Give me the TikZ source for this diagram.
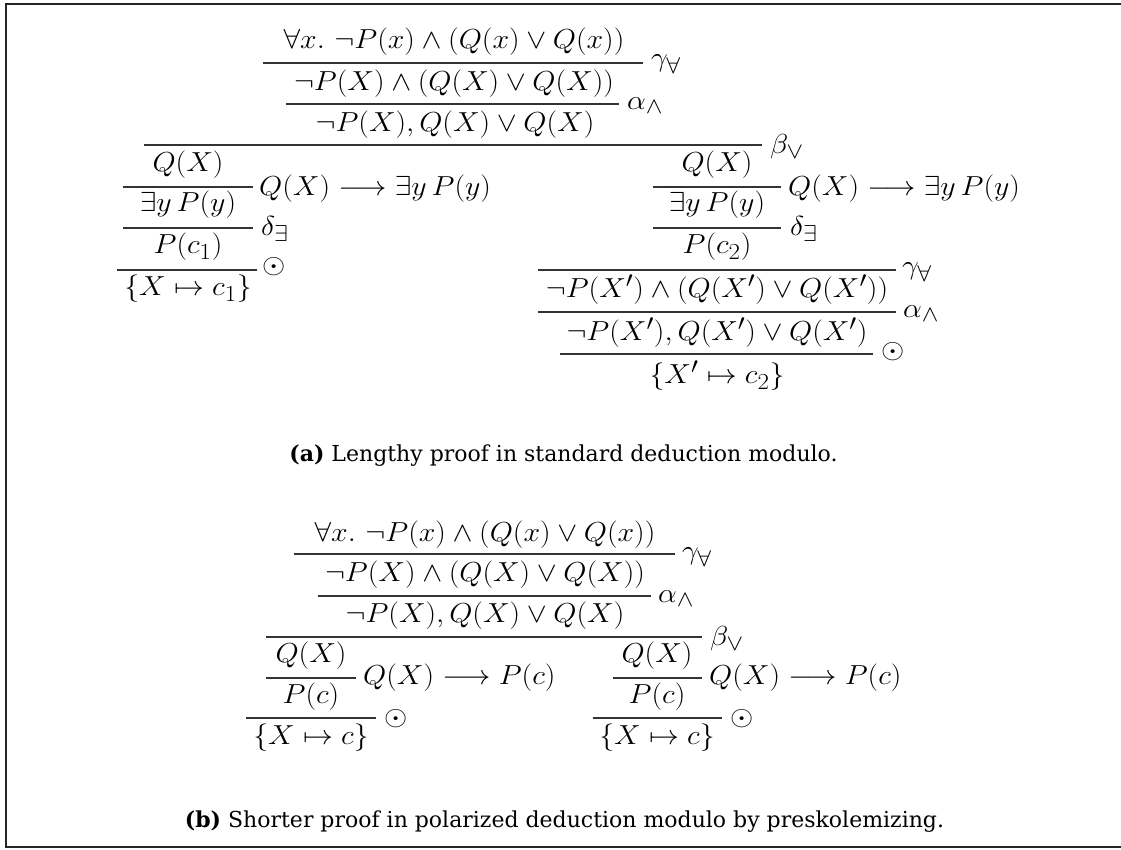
\documentclass[tikz,border=0pt]{standalone}
\usepackage{fontspec}
\setmainfont{DejaVu Serif}
\newcommand\mth[1]{\scalebox{1.2}[1.105]{$#1$}}
\tikzset{
  fml/.style={font=\fontsize{24.88}{30}\selectfont, inner sep=0pt, anchor=center},
  lbl/.style={font=\fontsize{24.88}{30}\selectfont, inner sep=0pt, anchor=west},
  captxt/.style={font=\fontsize{22}{26}\selectfont, inner sep=0pt, anchor=center},
  infrule/.style={draw=black!80, line width=1.1pt},
  frameline/.style={draw=black!85, line width=1.8pt}
}
\begin{document}
\begin{tikzpicture}[x=1pt,y=-1pt]
\useasboundingbox (0,0) rectangle (1121,849);
% frame (no right side)
\draw[frameline] (1121,4) -- (6,4) -- (6,847) -- (1121,847);

% ---------- (a) ----------
\node[fml] (a1) at (454,42) {\mth{\forall x.\ \neg P(x)\wedge(Q(x)\vee Q(x))}};
\draw[infrule] (262.5,63) -- (643,63);
\node[lbl] (a1l) at (651,64) {\mth{\gamma_\forall}};
\node[fml] (a2) at (454,83.5) {\mth{\neg P(X)\wedge(Q(X)\vee Q(X))}};
\draw[infrule] (286,104) -- (619,104);
\node[lbl] (a2l) at (627,106) {\mth{\alpha_\wedge}};
\node[fml] (a3) at (455,124.5) {\mth{\neg P(X), Q(X)\vee Q(X)}};
\draw[infrule] (143.6,145) -- (762,145);
\node[lbl] (a3l) at (770,147) {\mth{\beta_\vee}};

% left branch
\node[fml] (l1) at (188,165) {\mth{Q(X)}};
\draw[infrule] (123,187) -- (253,187);
\node[lbl] (l1l) at (259,189) {\mth{Q(X)\longrightarrow\exists y\, P(y)}};
\node[fml] (l2) at (188,205) {\mth{\exists y\, P(y)}};
\draw[infrule] (123,228) -- (253,228);
\node[lbl] (l2l) at (261,229) {\mth{\delta_\exists}};
\node[fml] (l3) at (188,247) {\mth{P(c_1)}};
\draw[infrule] (117,270) -- (257,270);
\node[lbl] (l3l) at (262,267) {\mth{\odot}};
\node[fml] (l4) at (188,289) {\mth{\{X\mapsto c_1\}}};

% right branch
\node[fml] (r1) at (717,165) {\mth{Q(X)}};
\draw[infrule] (653,187) -- (781,187);
\node[lbl] (r1l) at (788,189) {\mth{Q(X)\longrightarrow\exists y\, P(y)}};
\node[fml] (r2) at (717,205) {\mth{\exists y\, P(y)}};
\draw[infrule] (653,228) -- (781,228);
\node[lbl] (r2l) at (790,229) {\mth{\delta_\exists}};
\node[fml] (r3) at (717,247) {\mth{P(c_2)}};
\draw[infrule] (538,270) -- (896,270);
\node[lbl] (r3l) at (902,272) {\mth{\gamma_\forall}};
\node[fml] (r4) at (717,290) {\mth{\neg P(X')\wedge(Q(X')\vee Q(X'))}};
\draw[infrule] (538,312) -- (896,312);
\node[lbl] (r4l) at (903,314) {\mth{\alpha_\wedge}};
\node[fml] (r5) at (717,332.5) {\mth{\neg P(X'), Q(X')\vee Q(X')}};
\draw[infrule] (560,354) -- (873,354);
\node[lbl] (r5l) at (881,352) {\mth{\odot}};
\node[fml] (r6) at (717,376) {\mth{\{X'\mapsto c_2\}}};

\node[captxt] (capa) at (563.5,456) {\textbf{(a)} Lengthy proof in standard deduction modulo.};

% ---------- (b) ----------
\node[fml] (b1) at (485,534.5) {\mth{\forall x.\ \neg P(x)\wedge(Q(x)\vee Q(x))}};
\draw[infrule] (293.6,554) -- (674.6,554);
\node[lbl] (b1l) at (682,557) {\mth{\gamma_\forall}};
\node[fml] (b2) at (485,575) {\mth{\neg P(X)\wedge(Q(X)\vee Q(X))}};
\draw[infrule] (317.5,596) -- (650.7,596);
\node[lbl] (b2l) at (658,599) {\mth{\alpha_\wedge}};
\node[fml] (b3) at (485,616) {\mth{\neg P(X), Q(X)\vee Q(X)}};
\draw[infrule] (266,637) -- (702,637);
\node[lbl] (b3l) at (710,639) {\mth{\beta_\vee}};

\node[fml] (bl1) at (311,656) {\mth{Q(X)}};
\draw[infrule] (266,678) -- (356,678);
\node[lbl] (bl1l) at (363,678) {\mth{Q(X)\longrightarrow P(c)}};
\node[fml] (bl2) at (311,697) {\mth{P(c)}};
\draw[infrule] (246,718) -- (376,718);
\node[lbl] (bl2l) at (384,719) {\mth{\odot}};
\node[fml] (bl3) at (311,738) {\mth{\{X\mapsto c\}}};

\node[fml] (br1) at (657,656) {\mth{Q(X)}};
\draw[infrule] (613,678) -- (702,678);
\node[lbl] (br1l) at (709,678) {\mth{Q(X)\longrightarrow P(c)}};
\node[fml] (br2) at (657,697) {\mth{P(c)}};
\draw[infrule] (592.5,718) -- (722,718);
\node[lbl] (br2l) at (730,719) {\mth{\odot}};
\node[fml] (br3) at (657,738) {\mth{\{X\mapsto c\}}};

\node[captxt] (capb) at (564.5,822) {\textbf{(b)} Shorter proof in polarized deduction modulo by preskolemizing.};
\end{tikzpicture}
\end{document}
